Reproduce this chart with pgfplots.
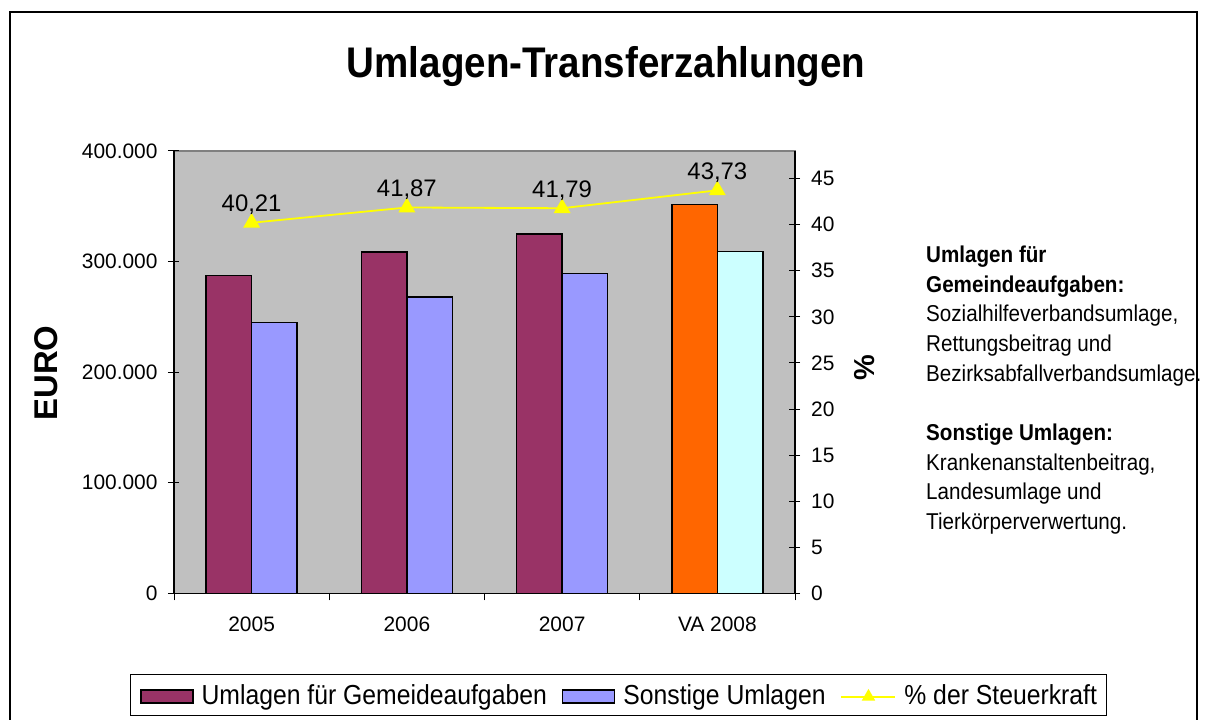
\documentclass[border=0pt]{standalone}
\usepackage{pgfplots}
\pgfplotsset{compat=1.18}
\usepackage{fontspec}
\setmainfont{Liberation Sans}
\newfontfamily\cond{Liberation Sans}[FakeStretch=0.9]
\definecolor{purp}{HTML}{993366}
\definecolor{lblue}{HTML}{9999FF}
\definecolor{orng}{HTML}{FF6600}
\definecolor{lcyan}{HTML}{CCFFFF}
\definecolor{bggray}{HTML}{C0C0C0}
\definecolor{yel}{HTML}{FFFF00}
\definecolor{framegray}{HTML}{808080}
\begin{document}
\begin{tikzpicture}
\useasboundingbox (0,0) rectangle (1214bp,720bp);
\fill[white] (0,0) rectangle (1214bp,720bp);
\draw[line width=2bp, black] (10bp,0) -- (10bp,708bp) -- (1197bp,708bp) -- (1197bp,0);

\begin{axis}[
  at={(174bp,126.7bp)}, anchor=south west,
  scale only axis, width=621bp, height=442.3bp,
  xmin=-0.5, xmax=3.5, ymin=0, ymax=400000,
  axis x line*=bottom, axis y line*=left,
  axis line style={-, black, line width=1.3bp},
  axis background/.style={fill=bggray, draw=framegray, line width=1.3bp},
  xtick={0,1,2,3}, xticklabels={2005,2006,2007,VA 2008},
  minor xtick={-0.5,0.5,1.5,2.5,3.5},
  major x tick style={draw=none},
  minor x tick style={black, line width=1bp},
  ytick={0,100000,200000,300000,400000},
  scaled y ticks=false,
  /pgf/number format/fixed,
  /pgf/number format/1000 sep={.},
  /pgf/number format/assume math mode=true,
  tick align=outside,
  major tick length=11bp, minor tick length=7bp,
  major y tick style={black, line width=1bp, xshift=5bp},
  tick label style={font=\fontsize{21}{25}\selectfont},
  yticklabel style={inner sep=0pt, xshift=-5.3bp},
  xticklabel style={anchor=base, inner sep=0pt, yshift=-27.4bp},
  barleg/.style={legend image code/.code={\draw[##1,/tikz/.cd] (0bp,-8.2bp) rectangle (52bp,4.8bp);}},
  lineleg/.style={legend image code/.code={\draw[mark repeat=2, mark phase=2, ##1] plot coordinates {(0bp,-1.7bp) (27bp,-1.7bp) (54bp,-1.7bp)};}},
  legend columns=3,
  legend cell align=left,
  legend style={at={(0.7158,-0.2299)}, anchor=center, draw=black, line width=1bp, fill=white,
    inner xsep=10bp, inner ysep=6bp,
    font=\cond\fontsize{27.6}{33}\selectfont,
    nodes={inner xsep=0bp, inner ysep=4bp},
    /tikz/every odd column/.append style={column sep=8bp},
    /tikz/every even column/.append style={column sep=15bp}},
]
\addplot[ybar, barleg, bar width=0.293, bar shift=-0.1465, fill=purp, draw=black, line width=1.5bp]
  coordinates {(0,287600) (1,308700) (2,324900)};
\addlegendentry{Umlagen für Gemeideaufgaben}
\addplot[ybar, barleg, bar width=0.293, bar shift=0.1465, fill=lblue, draw=black, line width=1.5bp]
  coordinates {(0,244700) (1,268000) (2,289400)};
\addlegendentry{Sonstige Umlagen}
\addplot[ybar, forget plot, bar width=0.293, bar shift=-0.1465, fill=orng, draw=black, line width=1.5bp]
  coordinates {(3,351800)};
\addplot[ybar, forget plot, bar width=0.293, bar shift=0.1465, fill=lcyan, draw=black, line width=1.5bp]
  coordinates {(3,308900)};
\addlegendimage{yel, line width=1.8bp, mark=triangle*, mark size=6bp, mark options={fill=yel, draw=yel, solid}, lineleg}
\addlegendentry{\% der Steuerkraft}
\end{axis}

\begin{axis}[
  at={(174bp,126.7bp)}, anchor=south west,
  scale only axis, width=621bp, height=442.3bp,
  xmin=-0.5, xmax=3.5, ymin=0, ymax=48,
  axis x line=none, axis y line*=right,
  axis line style={-, black, line width=1.3bp},
  ytick={0,5,...,45},
  tick align=outside, major tick length=11bp,
  major y tick style={black, line width=1bp, xshift=-6bp},
  tick label style={font=\fontsize{21}{25}\selectfont},
  /pgf/number format/assume math mode=true,
  yticklabel style={inner sep=0pt, xshift=5bp},
  clip=false,
]
\addplot[yel, line width=1.8bp, mark=triangle*, mark size=8bp, mark options={fill=yel, draw=yel},
  nodes near coords, point meta=explicit symbolic,
  nodes near coords style={text=black, anchor=center, yshift=18bp, font=\fontsize{24}{28}\selectfont}]
  coordinates {(0,40.21) [40,21] (1,41.87) [41,87] (2,41.79) [41,79] (3,43.73) [43,73]};
\end{axis}

\node[anchor=base, inner sep=0pt, font=\cond\bfseries\fontsize{43}{50}\selectfont] at (606bp,642bp) {Umlagen-Transferzahlungen};
\node[rotate=90, inner sep=0pt, font=\bfseries\fontsize{33}{38}\selectfont] at (46bp,347bp) {EURO};
\node[rotate=90, inner sep=0pt, font=\bfseries\fontsize{29}{34}\selectfont] at (864.5bp,352.5bp) {\%};
\node[anchor=north west, inner sep=0pt, align=left, font=\cond\fontsize{23}{29.7}\selectfont] at (926bp,474bp)
 {\textbf{Umlagen für}\\ \textbf{Gemeindeaufgaben:}\\ Sozialhilfeverbandsumlage,\\ Rettungsbeitrag und\\ Bezirksabfallverbandsumlage.\\[29.7bp]
  \textbf{Sonstige Umlagen:}\\ Krankenanstaltenbeitrag,\\ Landesumlage und\\ Tierkörperverwertung.};
\end{tikzpicture}
\end{document}
